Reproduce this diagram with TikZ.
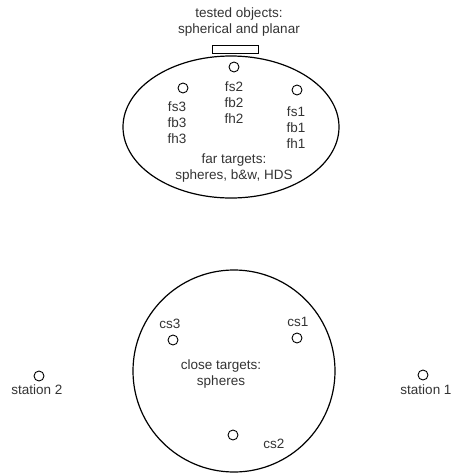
\documentclass[tikz,border=0pt]{standalone}
\usepackage{fontspec}
\setmainfont{Liberation Sans}
\usetikzlibrary{shapes.geometric}
\begin{document}
\begin{tikzpicture}[x=1pt,y=-1pt,
  lbl/.style={font=\fontsize{13.5}{16}\selectfont, align=center, inner sep=0pt, text=black!80},
  target/.style={circle, draw, line width=0.9pt, minimum size=10pt, inner sep=0pt},
  region/.style={draw, line width=1.2pt}]
\useasboundingbox (0,0) rectangle (453,474);
\clip (0,0) rectangle (453,474);

% far target field and the object under test
\node[region, ellipse, minimum width=216pt, minimum height=142pt] (far) at (231,127) {};
\node[draw, line width=0.9pt, minimum width=46pt, minimum height=8pt, inner sep=0pt] (obj) at (235,49) {};
\node[lbl] (objlbl) at (239,22) {tested objects:\\spherical and planar};

\node[target] (fs2) at (234,67) {};
\node[target] (fs3) at (183,88) {};
\node[target] (fs1) at (297,90) {};
\node[lbl] (l2) at (234,103) {fs2\\fb2\\fh2};
\node[lbl] (l3) at (177,123) {fs3\\fb3\\fh3};
\node[lbl] (l1) at (296,128) {fs1\\fb1\\fh1};
\node[lbl] (farlbl) at (234,168) {far targets:\\spheres, b\&w, HDS};

% close target field
\node[region, circle, minimum size=202pt, inner sep=0pt] (close) at (234,371) {};
\node[target] (cs3) at (173,340) {};
\node[target] (cs1) at (297,338) {};
\node[target] (cs2) at (233,435) {};
\node[lbl] (c3) at (170,324) {cs3};
\node[lbl] (c1) at (298,322) {cs1};
\node[lbl] (c2) at (274,444) {cs2};
\node[lbl] (closelbl) at (221,374) {close targets:\\spheres};

% scanner stations
\node[target] (st2) at (39,376) {};
\node[target] (st1) at (423,375) {};
\node[lbl] (s2) at (37,390) {station 2};
\node[lbl] (s1) at (426,390) {station 1};
\end{tikzpicture}
\end{document}
